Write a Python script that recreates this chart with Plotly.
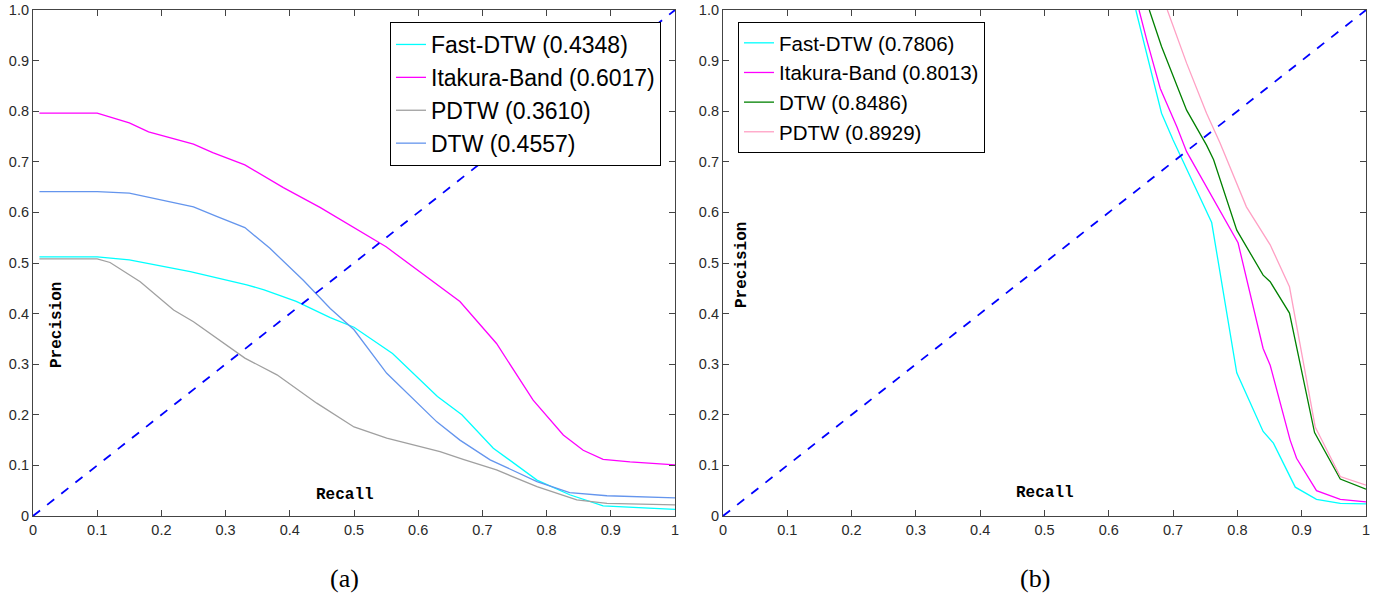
import plotly.graph_objects as go

# ---------------- data ----------------
# Panel (a)
a_fast_x = [0.01, 0.10, 0.15, 0.18, 0.245, 0.333, 0.36, 0.41, 0.463, 0.50, 0.56, 0.63, 0.668, 0.717, 0.785, 0.836, 0.888, 1.0]
a_fast_y = [0.512, 0.512, 0.506, 0.499, 0.483, 0.457, 0.447, 0.424, 0.392, 0.373, 0.321, 0.236, 0.200, 0.134, 0.071, 0.042, 0.020, 0.013]

a_itak_x = [0.01, 0.10, 0.15, 0.18, 0.25, 0.28, 0.33, 0.39, 0.447, 0.50, 0.55, 0.665, 0.722, 0.779, 0.826, 0.857, 0.888, 0.93, 1.0]
a_itak_y = [0.796, 0.796, 0.777, 0.759, 0.735, 0.718, 0.694, 0.649, 0.61, 0.57, 0.532, 0.424, 0.341, 0.229, 0.160, 0.130, 0.112, 0.107, 0.101]

a_pdtw_x = [0.01, 0.10, 0.12, 0.167, 0.219, 0.25, 0.33, 0.38, 0.442, 0.50, 0.551, 0.634, 0.67, 0.722, 0.785, 0.847, 0.894, 1.0]
a_pdtw_y = [0.508, 0.508, 0.501, 0.463, 0.407, 0.384, 0.312, 0.279, 0.223, 0.176, 0.154, 0.127, 0.112, 0.091, 0.058, 0.032, 0.025, 0.022]

a_dtw_x = [0.01, 0.10, 0.15, 0.18, 0.25, 0.286, 0.33, 0.369, 0.421, 0.463, 0.50, 0.551, 0.629, 0.665, 0.712, 0.785, 0.836, 0.894, 1.0]
a_dtw_y = [0.641, 0.641, 0.638, 0.630, 0.611, 0.592, 0.570, 0.529, 0.466, 0.410, 0.368, 0.282, 0.186, 0.150, 0.111, 0.068, 0.046, 0.040, 0.036]

a_names = ["Fast-DTW (0.4348)", "Itakura-Band (0.6017)", "PDTW (0.3610)", "DTW (0.4557)"]

# Panel (b)
b_fast_x = [0.642, 0.651, 0.667, 0.682, 0.700, 0.726, 0.760, 0.799, 0.840, 0.856, 0.890, 0.923, 0.960, 1.0]
b_fast_y = [1.0, 0.954, 0.868, 0.796, 0.743, 0.671, 0.580, 0.283, 0.167, 0.144, 0.057, 0.033, 0.025, 0.024]

b_itak_x = [0.647, 0.659, 0.680, 0.706, 0.721, 0.757, 0.801, 0.840, 0.851, 0.882, 0.892, 0.923, 0.960, 1.0]
b_itak_y = [1.0, 0.941, 0.845, 0.769, 0.72, 0.638, 0.540, 0.331, 0.298, 0.150, 0.114, 0.050, 0.033, 0.028]

b_dtw_x = [0.663, 0.682, 0.721, 0.752, 0.763, 0.799, 0.840, 0.851, 0.881, 0.920, 0.960, 1.0]
b_dtw_y = [1.0, 0.928, 0.802, 0.733, 0.704, 0.565, 0.476, 0.463, 0.401, 0.165, 0.073, 0.053]

b_pdtw_x = [0.691, 0.721, 0.752, 0.773, 0.814, 0.851, 0.881, 0.921, 0.960, 1.0]
b_pdtw_y = [1.0, 0.895, 0.796, 0.737, 0.611, 0.536, 0.453, 0.176, 0.078, 0.061]

b_names = ["Fast-DTW (0.7806)", "Itakura-Band (0.8013)", "DTW (0.8486)", "PDTW (0.8929)"]

diag = [0, 1]

x_ticks = [0, 0.1, 0.2, 0.3, 0.4, 0.5, 0.6, 0.7, 0.8, 0.9, 1]
x_labels = ["0", "0.1", "0.2", "0.3", "0.4", "0.5", "0.6", "0.7", "0.8", "0.9", "1"]
y_ticks = [0, 0.1, 0.2, 0.3, 0.4, 0.5, 0.6, 0.7, 0.8, 0.9, 1.0]
y_labels = ["0", "0.1", "0.2", "0.3", "0.4", "0.5", "0.6", "0.7", "0.8", "0.9", "1.0"]

# ---------------- figure ----------------
fig = go.Figure()
LW = 1.3

def add(x, y, name, color, xa, ya, leg):
    fig.add_trace(go.Scatter(x=x, y=y, mode="lines", name=name,
                             line=dict(color=color, width=LW),
                             xaxis=xa, yaxis=ya, legend=leg))

add(a_fast_x, a_fast_y, a_names[0], "#00FFFF", "x", "y", "legend")
add(a_itak_x, a_itak_y, a_names[1], "#FF00FF", "x", "y", "legend")
add(a_pdtw_x, a_pdtw_y, a_names[2], "#A0A0A0", "x", "y", "legend")
add(a_dtw_x, a_dtw_y, a_names[3], "#6495ED", "x", "y", "legend")
fig.add_trace(go.Scatter(x=diag, y=diag, mode="lines", showlegend=False,
                         line=dict(color="#0000FF", width=1.8, dash="dash"),
                         xaxis="x", yaxis="y"))

add(b_fast_x, b_fast_y, b_names[0], "#00FFFF", "x2", "y2", "legend2")
add(b_itak_x, b_itak_y, b_names[1], "#FF00FF", "x2", "y2", "legend2")
add(b_dtw_x, b_dtw_y, b_names[2], "#008000", "x2", "y2", "legend2")
add(b_pdtw_x, b_pdtw_y, b_names[3], "#FFA0C4", "x2", "y2", "legend2")
fig.add_trace(go.Scatter(x=diag, y=diag, mode="lines", showlegend=False,
                         line=dict(color="#0000FF", width=1.8, dash="dash"),
                         xaxis="x2", yaxis="y2"))

W, H = 1391, 598
ydom = [1 - 516 / H, 1 - 10 / H]
tickfont = dict(family="Liberation Sans, Arial", size=14.5, color="#2a2a2a")
axis_common = dict(range=[0, 1], showgrid=False, zeroline=False, showline=True,
                   linecolor="#444444", linewidth=1.2, mirror="ticks",
                   ticks="inside", ticklen=6, tickcolor="#444444", tickwidth=1.2,
                   tickfont=tickfont, automargin=False)

fig.update_layout(
    width=W, height=H,
    margin=dict(l=0, r=0, t=0, b=0, autoexpand=False),
    paper_bgcolor="white", plot_bgcolor="white",
    xaxis=dict(domain=[33 / W, 675 / W], anchor="y", tickvals=x_ticks, ticktext=x_labels, **axis_common),
    yaxis=dict(domain=ydom, anchor="x", tickvals=y_ticks, ticktext=y_labels, **axis_common),
    xaxis2=dict(domain=[723 / W, 1366 / W], anchor="y2", tickvals=x_ticks, ticktext=x_labels, **axis_common),
    yaxis2=dict(domain=ydom, anchor="x2", tickvals=y_ticks, ticktext=y_labels, **axis_common),
    legend=dict(x=661 / W, y=1 - 22 / H, xanchor="right", yanchor="top",
                bgcolor="white", bordercolor="black", borderwidth=1,
                font=dict(family="Liberation Sans, Arial", size=23, color="black"),
                tracegroupgap=0),
    legend2=dict(x=738 / W, y=1 - 22 / H, xanchor="left", yanchor="top",
                 bgcolor="white", bordercolor="black", borderwidth=1,
                 font=dict(family="Liberation Sans, Arial", size=20.5, color="black"),
                 tracegroupgap=0),
    showlegend=True,
)

lab_font = dict(family="Liberation Mono, Courier New, monospace", size=16, color="black")
fig.add_annotation(x=0.486, y=0.0415, xref="x", yref="y", text="<b>Recall</b>",
                   showarrow=False, font=lab_font)
fig.add_annotation(x=0.037, y=0.377, xref="x", yref="y", text="<b>Precision</b>",
                   showarrow=False, font=lab_font, textangle=-90)
fig.add_annotation(x=0.50, y=0.045, xref="x2", yref="y2", text="<b>Recall</b>",
                   showarrow=False, font=lab_font)
fig.add_annotation(x=0.0295, y=0.496, xref="x2", yref="y2", text="<b>Precision</b>",
                   showarrow=False, font=lab_font, textangle=-90)

cap_font = dict(family="Liberation Serif, Times New Roman, serif", size=26, color="black")
fig.add_annotation(x=344 / W, y=1 - 578 / H, xref="paper", yref="paper", text="(a)",
                   showarrow=False, font=cap_font, xanchor="center", yanchor="middle")
fig.add_annotation(x=1035 / W, y=1 - 578 / H, xref="paper", yref="paper", text="(b)",
                   showarrow=False, font=cap_font, xanchor="center", yanchor="middle")

fig.write_html("out.html")
